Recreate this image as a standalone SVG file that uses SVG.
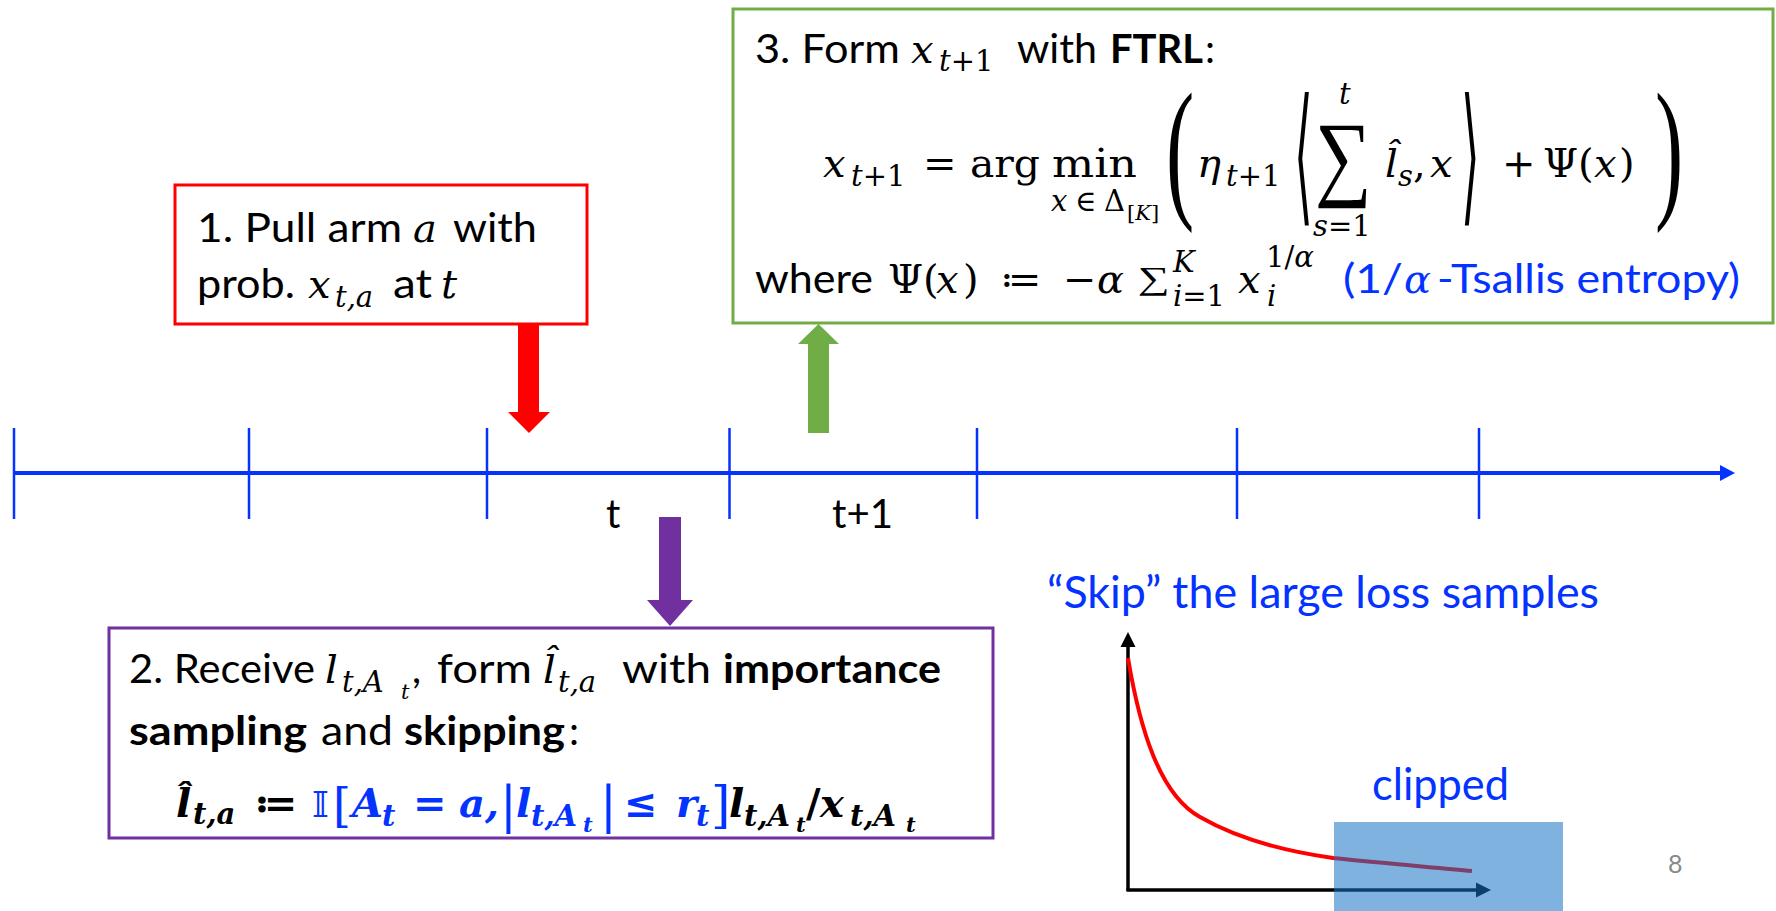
<svg xmlns="http://www.w3.org/2000/svg" width="1776" height="911" viewBox="0 0 1776 911">
<style>
.c{font-family:Lato,"Open Sans","Liberation Sans",sans-serif;font-size:40px;fill:#000}
.b{font-weight:bold}
.n{font-weight:normal}
.u{font-family:"DejaVu Serif",serif;font-style:normal}
.m{font-family:"DejaVu Serif",serif;font-style:italic}
.M{font-size:40px}
.s{font-size:29px}
.ss{font-size:21px}
.blue{fill:#0432FF}
.box{fill:#fff;stroke-width:3}
.tick{stroke:#0432FF;stroke-width:2.5}
</style>
<rect width="1776" height="911" fill="#fff"/>

<g id="timeline">
  <line x1="13" y1="473" x2="1722" y2="473" stroke="#0432FF" stroke-width="4"/>
  <polygon points="1720,465 1735,473 1720,481" fill="#0432FF"/>
  <line class="tick" x1="14" y1="428" x2="14" y2="519"/>
  <line class="tick" x1="249" y1="428" x2="249" y2="519"/>
  <line class="tick" x1="487" y1="428" x2="487" y2="519"/>
  <line class="tick" x1="729.5" y1="428" x2="729.5" y2="519"/>
  <line class="tick" x1="977" y1="428" x2="977" y2="519"/>
  <line class="tick" x1="1237" y1="428" x2="1237" y2="519"/>
  <line class="tick" x1="1479" y1="428" x2="1479" y2="519"/>
  <text class="c" x="606" y="528">t</text>
  <text class="c" x="832" y="528" textLength="61" lengthAdjust="spacingAndGlyphs">t+1</text>
</g>

<g id="connectors">
  <polygon points="518,324 539,324 539,412 550,412 529,433 508,412 518,412" fill="#FF0000"/>
  <polygon points="808,433 829,433 829,344 839,344 818.5,324 798,344 808,344" fill="#70AD47"/>
  <polygon points="659,517 681,517 681,600 693,600 670,626 647,600 659,600" fill="#7030A0"/>
</g>

<g id="step1">
  <rect class="box" x="175" y="185" width="412" height="139" stroke="#FF0000"/>
  <text class="c" x="197" y="242" textLength="205" lengthAdjust="spacingAndGlyphs">1. Pull arm</text>
  <text class="m M" x="413" y="242">a</text>
  <text class="c" x="453" y="242" textLength="84" lengthAdjust="spacingAndGlyphs">with</text>
  <text class="c" x="197" y="298" textLength="98" lengthAdjust="spacingAndGlyphs">prob.</text>
  <text class="m M" x="308" y="298">x</text>
  <text class="m s" x="335" y="307">t,a</text>
  <text class="c" x="393" y="298" textLength="39" lengthAdjust="spacingAndGlyphs">at</text>
  <text class="m M" x="441" y="298">t</text>
</g>

<g id="step2">
  <rect class="box" x="109" y="628" width="884" height="210" stroke="#7030A0"/>
  <text class="c" x="129" y="683" textLength="186" lengthAdjust="spacingAndGlyphs">2. Receive</text>
  <text class="m M" x="325" y="683">l</text>
  <text class="m s" x="342" y="692">t,A</text>
  <text class="m ss" x="401" y="699">t</text>
  <text class="c" x="412" y="683">,</text>
  <text class="c" x="437" y="683" textLength="95" lengthAdjust="spacingAndGlyphs">form</text>
  <text class="m M" x="543" y="683">l̂</text>
  <text class="m s" x="558" y="692">t,a</text>
  <text class="c" x="622" y="683" textLength="89" lengthAdjust="spacingAndGlyphs">with</text>
  <text class="c b" x="723" y="683" textLength="218" lengthAdjust="spacingAndGlyphs">importance</text>
  <text class="c b" x="129" y="745" textLength="178" lengthAdjust="spacingAndGlyphs">sampling</text>
  <text class="c" x="321" y="745" textLength="72" lengthAdjust="spacingAndGlyphs">and</text>
  <text class="c b" x="404" y="745" textLength="161" lengthAdjust="spacingAndGlyphs">skipping</text>
  <text class="c" x="569" y="745">:</text>
  <g font-weight="bold">
    <text class="m M" x="176" y="817">l̂</text>
    <text class="m s" x="193" y="824">t,a</text>
    <text class="u M" x="254" y="817">≔</text>
    <text class="u n blue" x="312" y="817" style="font-size:36px">𝕀</text>
    <text class="u n blue" x="333" y="822" style="font-size:46px">[</text>
    <text class="m M blue" x="352" y="817">A</text>
    <text class="m s blue" x="382" y="826">t</text>
    <text class="u M blue" x="413" y="817">=</text>
    <text class="m M blue" x="459" y="817">a,</text>
    <text class="u n blue" x="500" y="822" style="font-size:50px">|</text>
    <text class="m M blue" x="516" y="817">l</text>
    <text class="m s blue" x="531" y="826">t,A</text>
    <text class="m ss blue" x="583" y="832">t</text>
    <text class="u n blue" x="600" y="822" style="font-size:50px">|</text>
    <text class="u M blue" x="624" y="817">≤</text>
    <text class="m M blue" x="676" y="817">r</text>
    <text class="m s blue" x="696" y="826">t</text>
    <text class="u n blue" x="711" y="822" style="font-size:50px">]</text>
    <text class="m M" x="729" y="817">l</text>
    <text class="m s" x="744" y="826">t,A</text>
    <text class="m ss" x="796" y="832">t</text>
    <text class="u M" x="806" y="817">/</text>
    <text class="m M" x="820" y="817">x</text>
    <text class="m s" x="850" y="826">t,A</text>
    <text class="m ss" x="906" y="832">t</text>
  </g>
</g>

<g id="step3">
  <rect class="box" x="733" y="9" width="1040" height="314" stroke="#70AD47"/>
  <text class="c" x="755" y="63" textLength="145" lengthAdjust="spacingAndGlyphs">3. Form</text>
  <text class="m M" x="911" y="63">x</text>
  <text class="m s" x="939" y="71">t<tspan class="u">+1</tspan></text>
  <text class="c" x="1017" y="63" textLength="80" lengthAdjust="spacingAndGlyphs">with</text>
  <text class="c b" x="1110" y="63" textLength="93" lengthAdjust="spacingAndGlyphs">FTRL</text>
  <text class="c" x="1205" y="63">:</text>

  <text class="m M" x="823" y="177">x</text>
  <text class="m s" x="851" y="186">t<tspan class="u">+1</tspan></text>
  <text class="u M" x="923" y="177">=</text>
  <text class="u M" x="970" y="177" textLength="70" lengthAdjust="spacingAndGlyphs">arg</text>
  <text class="u M" x="1052" y="177" textLength="85" lengthAdjust="spacingAndGlyphs">min</text>
  <text class="m s" x="1051" y="211" textLength="74">x<tspan class="u">∈Δ</tspan></text>
  <text class="u ss" x="1127" y="220">[<tspan class="m">K</tspan>]</text>
  <text font-family="Liberation Serif" style="font-size:154px" transform="translate(1166,200) scale(0.55,1)">(</text>
  <text class="m M" x="1197" y="177">η</text>
  <text class="m s" x="1226" y="186">t<tspan class="u">+1</tspan></text>
  <text font-family="DejaVu Sans" style="font-size:150px" transform="translate(1294,206) scale(0.32,1)">⟨</text>
  <text font-family="Liberation Serif" style="font-size:95px" transform="translate(1315,188) scale(0.84,1)">∑</text>
  <text class="m s" x="1339" y="104">t</text>
  <text class="m s" x="1313" y="236">s<tspan class="u">=1</tspan></text>
  <text class="m M" x="1385" y="177">l̂</text>
  <text class="m s" x="1398" y="186">s</text>
  <text class="u M" x="1413" y="177">,</text>
  <text class="m M" x="1430" y="177">x</text>
  <text font-family="DejaVu Sans" style="font-size:150px" transform="translate(1461,206) scale(0.32,1)">⟩</text>
  <text class="u M" x="1502" y="177">+</text>
  <text class="u M" x="1543" y="177">Ψ(</text>
  <text class="m M" x="1594" y="177">x</text>
  <text class="u M" x="1619" y="177">)</text>
  <text font-family="Liberation Serif" style="font-size:154px" transform="translate(1655,200) scale(0.55,1)">)</text>

  <text class="c" x="755" y="293" textLength="118" lengthAdjust="spacingAndGlyphs">where</text>
  <text class="u M" x="888" y="293">Ψ(</text>
  <text class="m M" x="936" y="293">x</text>
  <text class="u M" x="963" y="293">)</text>
  <text class="u M" x="1000" y="293">≔</text>
  <text class="u M" x="1063" y="293">−</text>
  <text class="m M" x="1097" y="293">α</text>
  <text font-family="Liberation Serif" style="font-size:32px" transform="translate(1138,289) scale(1.4,1)">∑</text>
  <text class="m s" x="1173" y="272">K</text>
  <text class="m s" x="1173" y="306">i<tspan class="u">=1</tspan></text>
  <text class="m M" x="1238" y="293">x</text>
  <text class="u s" x="1266" y="267">1/<tspan class="m">α</tspan></text>
  <text class="m s" x="1267" y="306">i</text>
  <text class="c blue" x="1343" y="293" textLength="60" lengthAdjust="spacingAndGlyphs">(1/</text>
  <text class="m M blue" x="1404" y="293">α</text>
  <text class="c blue" x="1437" y="293" textLength="303" lengthAdjust="spacingAndGlyphs">-Tsallis entropy)</text>
</g>

<g id="chart">
  <text class="c blue" x="1047" y="608" style="font-size:44px" textLength="552" lengthAdjust="spacingAndGlyphs">“Skip” the large loss samples</text>
  <line x1="1128" y1="891" x2="1128" y2="646" stroke="#000" stroke-width="3.5"/>
  <polygon points="1120.5,647 1128,632 1135.5,647" fill="#000"/>
  <line x1="1126.5" y1="890" x2="1477" y2="890" stroke="#000" stroke-width="3.5"/>
  <polygon points="1476,882.5 1491,890 1476,897.5" fill="#000"/>
  <path d="M1128,658 C1140,730 1160,795 1200,817 C1240,840 1290,852 1333,858 C1380,863 1430,867 1472,871" fill="none" stroke="#FF0000" stroke-width="4"/>
  <rect x="1334" y="822" width="229" height="89" fill="#1673C3" fill-opacity="0.55"/>
  <text class="c blue" x="1372" y="800" style="font-size:44px" textLength="137" lengthAdjust="spacingAndGlyphs">clipped</text>
</g>

<text class="c" x="1668" y="873" style="font-size:25px;fill:#898989">8</text>
</svg>
